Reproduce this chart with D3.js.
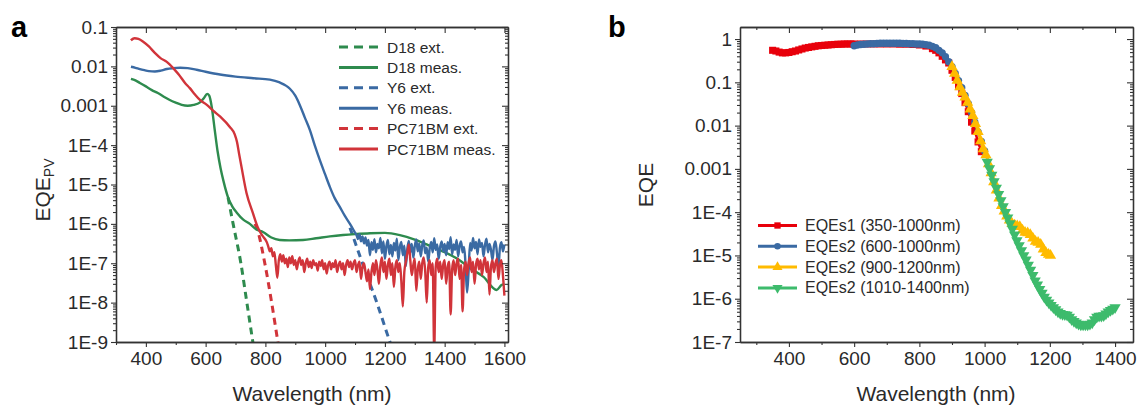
<!DOCTYPE html>
<html>
<head>
<meta charset="utf-8">
<script src="https://cdn.jsdelivr.net/npm/d3@7"></script>
<style>
  body { margin: 0; background: #fff; }
  svg { display: block; font-family: "Liberation Sans", Arial, sans-serif; }
</style>
</head>
<body>
<div id="chart"></div>
<script>
// ---------- panel a data (wavelength nm, EQE_PV) ----------
const d18Meas = [[350,0.0048],[365,0.0044],[380,0.0038],[400,0.0031],[420,0.0025],[440,0.0021],[460,0.0017],
  [480,0.0014],[500,0.0012],[520,0.00105],[540,0.001],[560,0.00105],[580,0.0012],[595,0.0016],[605,0.002],
  [612,0.0018],[620,0.00098],[630,2.6e-4],[640,7e-5],[650,2.6e-5],[660,1.2e-5],[675,4.7e-6],[690,2.7e-6],
  [705,1.9e-6],[725,1.3e-6],[748,1e-6],[770,7.2e-7],[792,6.2e-7],[820,4.5e-7],[848,3.9e-7],[880,3.8e-7],
  [926,3.9e-7],[970,4.3e-7],[1016,4.8e-7],[1060,5.2e-7],[1100,5.5e-7],[1150,5.8e-7],[1200,5.9e-7],
  [1250,5.2e-7],[1300,4e-7],[1350,2.8e-7],[1400,1.9e-7],[1450,1.2e-7],[1484,7.6e-8],[1530,4.5e-8],
  [1574,2.1e-8],[1590,2.8e-8],[1600,3e-8]];
const d18Ext = [[675,4.7e-6],[692,1e-6],[718,1e-7],[738,1e-8],[758,1e-9],[766,4e-10]];

const y6Smooth = [[350,0.0098],[365,0.0092],[380,0.0085],[395,0.008],[410,0.0076],[430,0.0074],[450,0.0078],
  [470,0.0086],[490,0.009],[515,0.0092],[540,0.009],[570,0.0082],[600,0.0073],[648,0.0062],[700,0.0055],
  [760,0.005],[815,0.0046],[848,0.0039],[870,0.0032],[882,0.0027],[900,0.0018],[915,0.00105],[932,5e-4],
  [949,2.4e-4],[965,1e-4],[982,4.2e-5],[1000,1.8e-5],[1016,8.6e-6],[1032,4.5e-6],[1049,2.7e-6],
  [1066,1.6e-6],[1083,1e-6],[1095,7e-7],[1100,6e-7]];
// measured noise floor, 1105..1600 nm every 5 nm
const y6NoiseWl = d3.range(1105, 1601, 5);
const y6Noise = [
  5.2e-7,4.1e-7,5.5e-7,3.6e-7,4.8e-7,3.2e-7,4.5e-7,2.8e-7,3.9e-7,1.6e-7,
  3.4e-7,2.2e-7,4.1e-7,1.9e-7,3.1e-7,2.4e-7,4.4e-7,1.8e-7,3.6e-7,1.3e-7,
  2.7e-7,3.9e-7,1.7e-7,2.9e-7,1.5e-7,3.3e-7,2.1e-7,4.2e-7,1.2e-7,2.6e-7,
  3.5e-7,1.6e-7,2.8e-7,8.5e-8,2.3e-7,3.7e-7,1.9e-7,3.1e-7,1.4e-7,2.7e-7,
  4.0e-7,2.0e-7,3.2e-7,1.5e-7,2.9e-7,3.8e-7,1.8e-7,2.5e-7,1.1e-7,2.4e-7,
  3.5e-7,1.9e-7,4.3e-7,2.2e-7,3.0e-7,1.3e-7,2.6e-7,3.6e-7,2.0e-7,3.1e-7,
  1.6e-7,3.4e-7,2.3e-7,4.6e-7,1.7e-7,3.0e-7,2.2e-7,3.9e-7,1.5e-7,2.8e-7,
  3.6e-7,1.9e-7,2.6e-7,9e-8,1.8e-8,6e-8,3.3e-7,2.1e-7,4.4e-7,2.4e-7,
  3.5e-7,1.7e-7,4.0e-7,2.6e-7,3.3e-7,1.5e-7,2.9e-7,4.2e-7,1.9e-7,3.1e-7,
  2.2e-7,1.2e-7,2.7e-7,3.6e-7,1.8e-7,8e-8,2.5e-7,3.4e-7,2.0e-7,3.0e-7];
const y6Ext = [[1083,8e-7],[1126,9.5e-8],[1173,1e-8],[1217,1e-9],[1232,4.8e-10]];

const pcSmooth = [[350,0.046],[362,0.052],[375,0.05],[390,0.043],[410,0.032],[430,0.022],[450,0.016],
  [470,0.013],[492,0.0089],[510,0.0062],[531,0.0038],[547,0.0028],[565,0.0019],[581,0.0014],[604,0.00105],
  [625,7.5e-4],[650,5.2e-4],[681,2.9e-4],[697,1.9e-4],[705,1.2e-4],[712,6e-5],[720,2.8e-5],[737,6e-6],
  [758,1.9e-6],[775,8e-7],[790,5e-7]];
// measured noise floor, 805..1600 nm every 5 nm
const pcNoiseWl = d3.range(805, 1601, 5);
const pcNoise = [
  3.4e-7,2.6e-7,2.0e-7,2.4e-7,1.5e-7,1.9e-7,9e-8,4.3e-8,1.2e-7,1.7e-7,
  1.1e-7,1.6e-7,1.0e-7,1.3e-7,8e-8,1.4e-7,1.0e-7,1.5e-7,9e-8,1.2e-7,
  7e-8,1.1e-7,1.4e-7,9e-8,1.2e-7,6e-8,1.0e-7,1.3e-7,8e-8,1.1e-7,
  7.5e-8,1.2e-7,9e-8,1.0e-7,6.5e-8,1.1e-7,8.5e-8,1.2e-7,7e-8,1.0e-7,
  5.5e-8,9e-8,1.1e-7,7e-8,1.0e-7,8e-8,1.2e-7,6e-8,9e-8,1.1e-7,
  7e-8,1.0e-7,5e-8,9e-8,1.2e-7,8e-8,1.1e-7,7e-8,1.0e-7,1.2e-7,
  6e-8,9e-8,1.1e-7,4e-8,8e-8,1.0e-7,6e-8,3.5e-8,7e-8,2.2e-8,
  6e-8,1.0e-7,5e-8,1.2e-7,7e-8,3.0e-8,9e-8,1.4e-7,6e-8,1.1e-7,
  4e-8,9e-8,1.3e-7,5e-8,1.0e-7,2.5e-8,8e-8,1.2e-7,6e-8,1.0e-7,
  3.5e-8,8e-9,6e-8,1.1e-7,1.8e-7,3.0e-7,1.2e-7,5e-8,9e-8,1.3e-7,
  2.0e-8,7e-8,1.1e-7,4e-8,1.0e-7,1.4e-7,6e-8,1.0e-8,8e-8,1.2e-7,
  5e-8,1.0e-7,6e-10,8e-8,1.3e-7,6e-8,1.1e-7,4e-8,9e-8,1.2e-7,
  3e-8,8e-8,1.1e-7,5e-9,7e-8,1.2e-7,5e-8,1.0e-7,1.3e-7,4e-8,
  9e-8,6e-9,7e-8,1.1e-7,5e-8,1.0e-7,1.4e-7,6e-8,1.1e-7,3e-8,
  9e-8,1.3e-7,7e-8,1.2e-7,5e-8,1.0e-7,1.4e-7,6e-8,1.1e-7,1.6e-8,
  8e-8,1.2e-7,6e-8,1.0e-7,1.3e-7,4e-8,9e-8,1.2e-7,5e-8,1.5e-8];
const pcExt = [[765,1e-6],[771,8e-7],[798,1e-7],[821,1e-8],[842,1e-9],[851,4e-10]];

const aLegend = ["D18 ext.", "D18 meas.", "Y6 ext.", "Y6 meas.", "PC71BM ext.", "PC71BM meas."];
const aXTicks = [400, 600, 800, 1000, 1200, 1400, 1600];
const aXMinor = [300, 500, 700, 900, 1100, 1300, 1500];
const aYTicks = [0.1, 0.01, 0.001, 1e-4, 1e-5, 1e-6, 1e-7, 1e-8, 1e-9];
const aYLabels = ["0.1", "0.01", "0.001", "1E-4", "1E-5", "1E-6", "1E-7", "1E-8", "1E-9"];

// ---------- panel b data (wavelength nm, EQE) ----------
const eqes1 = [[350,0.55],[360,0.53],[370,0.5],[380,0.48],[390,0.48],[400,0.49],[410,0.51],[420,0.53],
  [430,0.56],[440,0.59],[450,0.62],[460,0.64],[470,0.66],[480,0.68],[490,0.7],[500,0.71],[510,0.72],
  [520,0.73],[530,0.74],[540,0.75],[550,0.76],[560,0.76],[570,0.77],[580,0.77],[590,0.77],[600,0.77],
  [620,0.77],[640,0.77],[660,0.77],[680,0.77],[700,0.77],[720,0.77],[740,0.76],[760,0.76],[780,0.75],
  [800,0.73],[820,0.69],[840,0.6],[850,0.55],[860,0.48],[870,0.4],[880,0.33],[890,0.28],[900,0.19],
  [910,0.13],[920,0.08],[930,0.055],[940,0.034],[950,0.021],[960,0.012],[970,0.0075],[980,0.0042],[990,0.0025]];
const eqes2a = [[600,0.7],[610,0.73],[620,0.75],[630,0.76],[640,0.77],[650,0.78],[660,0.78],[670,0.79],
  [680,0.8],[690,0.8],[700,0.8],[710,0.8],[720,0.8],[730,0.8],[740,0.8],[750,0.79],[760,0.79],[770,0.78],
  [780,0.78],[790,0.77],[800,0.77],[810,0.76],[820,0.74],[830,0.72],[840,0.68],[850,0.63],[860,0.55],
  [870,0.48],[880,0.39],[890,0.3],[900,0.23],[910,0.16],[920,0.11],[930,0.075],[940,0.05],[950,0.032],
  [960,0.02],[970,0.012],[980,0.0072],[990,0.0043],[1000,0.0026]];
const eqes2b = [[900,0.23],[908,0.16],[916,0.11],[924,0.078],[932,0.058],[940,0.045],[948,0.034],
  [956,0.024],[964,0.017],[972,0.011],[980,0.0072],[988,0.0044],[996,0.0029],[1004,0.0021],[1012,0.0013],
  [1020,8e-4],[1028,5e-4],[1036,3.2e-4],[1044,2.1e-4],[1052,1.4e-4],[1060,1.05e-4],[1068,8e-5],
  [1076,6.5e-5],[1084,5.5e-5],[1092,5e-5],[1100,4.8e-5],[1108,4.6e-5],[1116,3.8e-5],[1124,3.4e-5],
  [1132,3.3e-5],[1140,3e-5],[1148,2.5e-5],[1156,2.1e-5],[1164,2e-5],[1172,1.8e-5],[1180,1.4e-5],
  [1188,1.15e-5],[1196,1.05e-5],[1202,1e-5]];
const eqes2c = [[1008,1.45e-3],[1015,1.02e-3],[1022,7.2e-4],[1029,5.1e-4],[1036,3.6e-4],[1043,2.6e-4],
  [1050,1.86e-4],[1057,1.35e-4],[1064,1e-4],[1071,7.4e-5],[1078,5.5e-5],[1085,4.1e-5],[1092,3e-5],
  [1099,2.2e-5],[1106,1.7e-5],[1113,1.3e-5],[1120,1e-5],[1127,7.9e-6],[1134,6e-6],[1141,4.6e-6],
  [1148,3.5e-6],[1155,2.6e-6],[1162,2.1e-6],[1169,1.66e-6],[1176,1.35e-6],[1183,1.1e-6],[1190,9.3e-7],
  [1197,8.1e-7],[1204,7.1e-7],[1211,6.3e-7],[1218,5.6e-7],[1225,5e-7],[1232,4.6e-7],[1239,4.4e-7],
  [1246,4.3e-7],[1253,4.2e-7],[1260,3.8e-7],[1267,3.3e-7],[1274,3e-7],[1281,2.8e-7],[1288,2.6e-7],
  [1295,2.5e-7],[1302,2.5e-7],[1309,2.5e-7],[1316,2.5e-7],[1323,2.6e-7],[1330,2.8e-7],[1337,3.3e-7],
  [1344,3.8e-7],[1351,4e-7],[1358,4e-7],[1365,4.1e-7],[1372,4.5e-7],[1379,5e-7],[1386,5.4e-7],
  [1393,5.8e-7],[1400,6.3e-7]];

const bLegend = ["EQEs1 (350-1000nm)", "EQEs2 (600-1000nm)", "EQEs2 (900-1200nm)", "EQEs2 (1010-1400nm)"];
const bXTicks = [400, 600, 800, 1000, 1200, 1400];
const bXMinor = [300, 500, 700, 900, 1100, 1300];
const bYTicks = [1, 0.1, 0.01, 0.001, 1e-4, 1e-5, 1e-6, 1e-7];
const bYLabels = ["1", "0.1", "0.01", "0.001", "1E-4", "1E-5", "1E-6", "1E-7"];

// ---------- drawing ----------
const width = 1143, height = 407;
const axisColor = "#333";
const textColor = "#2a2a2a";

const svg = d3.select("#chart").append("svg")
  .attr("width", width)
  .attr("height", height);

function logMinor(lo, hi) {
  const out = [];
  for (let e = Math.floor(Math.log10(lo)); e <= Math.ceil(Math.log10(hi)); e++) {
    for (let m = 2; m <= 9; m++) {
      const v = m * Math.pow(10, e);
      if (v > lo && v < hi) out.push(v);
    }
  }
  return out;
}

function drawFrame(g, x, y, xTicks, xMinor, yTicks, yLabels, fs) {
  const [xl, xr] = x.range();
  const [yb, yt] = y.range();
  const yMinor = logMinor(y.domain()[0], y.domain()[1]);
  const fmtY = d => yLabels[yTicks.indexOf(d)];

  const axes = [
    [d3.axisBottom(x).tickValues(xTicks).tickSize(5).tickPadding(5).tickFormat(d3.format("d")), `translate(0,${yb})`],
    [d3.axisBottom(x).tickValues(xMinor).tickSize(3).tickFormat(""), `translate(0,${yb})`],
    [d3.axisTop(x).tickValues(xTicks).tickSize(-6).tickFormat(""), `translate(0,${yt})`],
    [d3.axisTop(x).tickValues(xMinor).tickSize(-3).tickFormat(""), `translate(0,${yt})`],
    [d3.axisLeft(y).tickValues(yTicks).tickSize(5).tickPadding(3).tickFormat(fmtY), `translate(${xl},0)`],
    [d3.axisLeft(y).tickValues(yMinor).tickSize(3).tickFormat(""), `translate(${xl},0)`],
    [d3.axisRight(y).tickValues(yTicks).tickSize(-6).tickFormat(""), `translate(${xr},0)`],
    [d3.axisRight(y).tickValues(yMinor).tickSize(-3).tickFormat(""), `translate(${xr},0)`]
  ];
  axes.forEach(([ax, tr]) => {
    const a = g.append("g").attr("transform", tr).call(ax.tickSizeOuter(0));
    a.select(".domain").attr("stroke", axisColor).attr("stroke-width", 1.3);
    a.selectAll(".tick line").attr("stroke", axisColor).attr("stroke-width", 1.1);
    a.selectAll("text")
      .attr("fill", textColor)
      .attr("font-size", fs)
      .attr("font-family", "Liberation Sans, Arial, sans-serif");
  });
}

const line = (x, y) => d3.line()
  .x(d => x(d[0]))
  .y(d => y(d[1]))
  .curve(d3.curveMonotoneX);

// ==== panel a ====
const ax = d3.scaleLinear().domain([300, 1612]).range([116, 508]);
const ay = d3.scaleLog().domain([1e-9, 0.1]).range([342, 27]);
const ga = svg.append("g");

svg.append("clipPath").attr("id", "clipA")
  .append("rect").attr("x", 116).attr("y", 27).attr("width", 392).attr("height", 315);

const green = "#2e8b4e", blue = "#3a6aa3", red = "#d1343a";
const aSeries = [
  { data: d18Ext, color: green, dash: "7,5" },
  { data: pcExt, color: red, dash: "7,5" },
  { data: y6Ext, color: blue, dash: "7,5" },
  { data: d18Meas, color: green, dash: null },
  { data: y6Smooth.concat(y6NoiseWl.map((w, i) => [w, y6Noise[i]])), color: blue, dash: null },
  { data: pcSmooth.concat(pcNoiseWl.map((w, i) => [w, pcNoise[i]])), color: red, dash: null }
];
const plotA = ga.append("g").attr("clip-path", "url(#clipA)");
aSeries.forEach(s => {
  plotA.append("path")
    .datum(s.data)
    .attr("fill", "none")
    .attr("stroke", s.color)
    .attr("stroke-width", s.dash ? 3 : 2.4)
    .attr("stroke-dasharray", s.dash)
    .attr("stroke-linejoin", "round")
    .attr("d", line(ax, ay));
});

drawFrame(ga, ax, ay, aXTicks, aXMinor, aYTicks, aYLabels, 19);

// legend a
const aLegColors = [green, green, blue, blue, red, red];
aLegend.forEach((t, i) => {
  const yy = 47 + i * 20.4;
  ga.append("line")
    .attr("x1", 339).attr("x2", 378).attr("y1", yy).attr("y2", yy)
    .attr("stroke", aLegColors[i])
    .attr("stroke-width", 3)
    .attr("stroke-dasharray", i % 2 === 0 ? "9,6" : null);
  ga.append("text")
    .attr("x", 387).attr("y", yy + 5.5)
    .attr("fill", textColor)
    .attr("font-size", 15.5)
    .text(t);
});

// titles a
ga.append("text")
  .attr("x", 312).attr("y", 401)
  .attr("text-anchor", "middle")
  .attr("fill", textColor)
  .attr("font-size", 21)
  .text("Wavelength (nm)");
const eqepv = ga.append("text")
  .attr("transform", "translate(50,190) rotate(-90)")
  .attr("text-anchor", "middle")
  .attr("fill", textColor)
  .attr("font-size", 21);
eqepv.append("tspan").text("EQE");
eqepv.append("tspan").attr("font-size", 14).attr("dy", 4).text("PV");
ga.append("text")
  .attr("x", 11).attr("y", 37)
  .attr("font-size", 29)
  .attr("font-weight", "bold")
  .attr("fill", "#000")
  .text("a");

// ==== panel b ====
const bx = d3.scaleLinear().domain([250, 1455]).range([740, 1133]);
const by = d3.scaleLog().domain([1e-7, 1.9]).range([342, 27]);
const gb = svg.append("g");

const bSeries = [
  { data: eqes1, color: "#e8000b", sym: d3.symbolSquare, size: 50, rot: 0 },
  { data: eqes2a, color: "#3a6aa3", sym: d3.symbolCircle, size: 42, rot: 0 },
  { data: eqes2b, color: "#ffbb00", sym: d3.symbolTriangle, size: 55, rot: 0 },
  { data: eqes2c, color: "#3dbb6c", sym: d3.symbolTriangle, size: 55, rot: 180 }
];
bSeries.forEach(s => {
  const g = gb.append("g");
  g.append("path")
    .datum(s.data)
    .attr("fill", "none")
    .attr("stroke", s.color)
    .attr("stroke-width", 2.5)
    .attr("d", line(bx, by));
  g.selectAll("path.m")
    .data(s.data)
    .enter()
    .append("path")
    .attr("class", "m")
    .attr("d", d3.symbol().type(s.sym).size(s.size))
    .attr("transform", d => `translate(${bx(d[0])},${by(d[1])}) rotate(${s.rot})`)
    .attr("fill", s.color);
});

drawFrame(gb, bx, by, bXTicks, bXMinor, bYTicks, bYLabels, 19);

// legend b
bLegend.forEach((t, i) => {
  const s = bSeries[i];
  const yy = 225.5 + i * 20.8;
  gb.append("line")
    .attr("x1", 758).attr("x2", 797).attr("y1", yy).attr("y2", yy)
    .attr("stroke", s.color)
    .attr("stroke-width", 3);
  gb.append("path")
    .attr("d", d3.symbol().type(s.sym).size(s.size * 0.8))
    .attr("transform", `translate(777.5,${yy}) rotate(${s.rot})`)
    .attr("fill", s.color);
  gb.append("text")
    .attr("x", 805).attr("y", yy + 5.5)
    .attr("fill", textColor)
    .attr("font-size", 16)
    .text(t);
});

gb.append("text")
  .attr("x", 936).attr("y", 401)
  .attr("text-anchor", "middle")
  .attr("fill", textColor)
  .attr("font-size", 21)
  .text("Wavelength (nm)");
gb.append("text")
  .attr("transform", "translate(653,185) rotate(-90)")
  .attr("text-anchor", "middle")
  .attr("fill", textColor)
  .attr("font-size", 21)
  .text("EQE");
gb.append("text")
  .attr("x", 608).attr("y", 37)
  .attr("font-size", 29)
  .attr("font-weight", "bold")
  .attr("fill", "#000")
  .text("b");
</script>
</body>
</html>
